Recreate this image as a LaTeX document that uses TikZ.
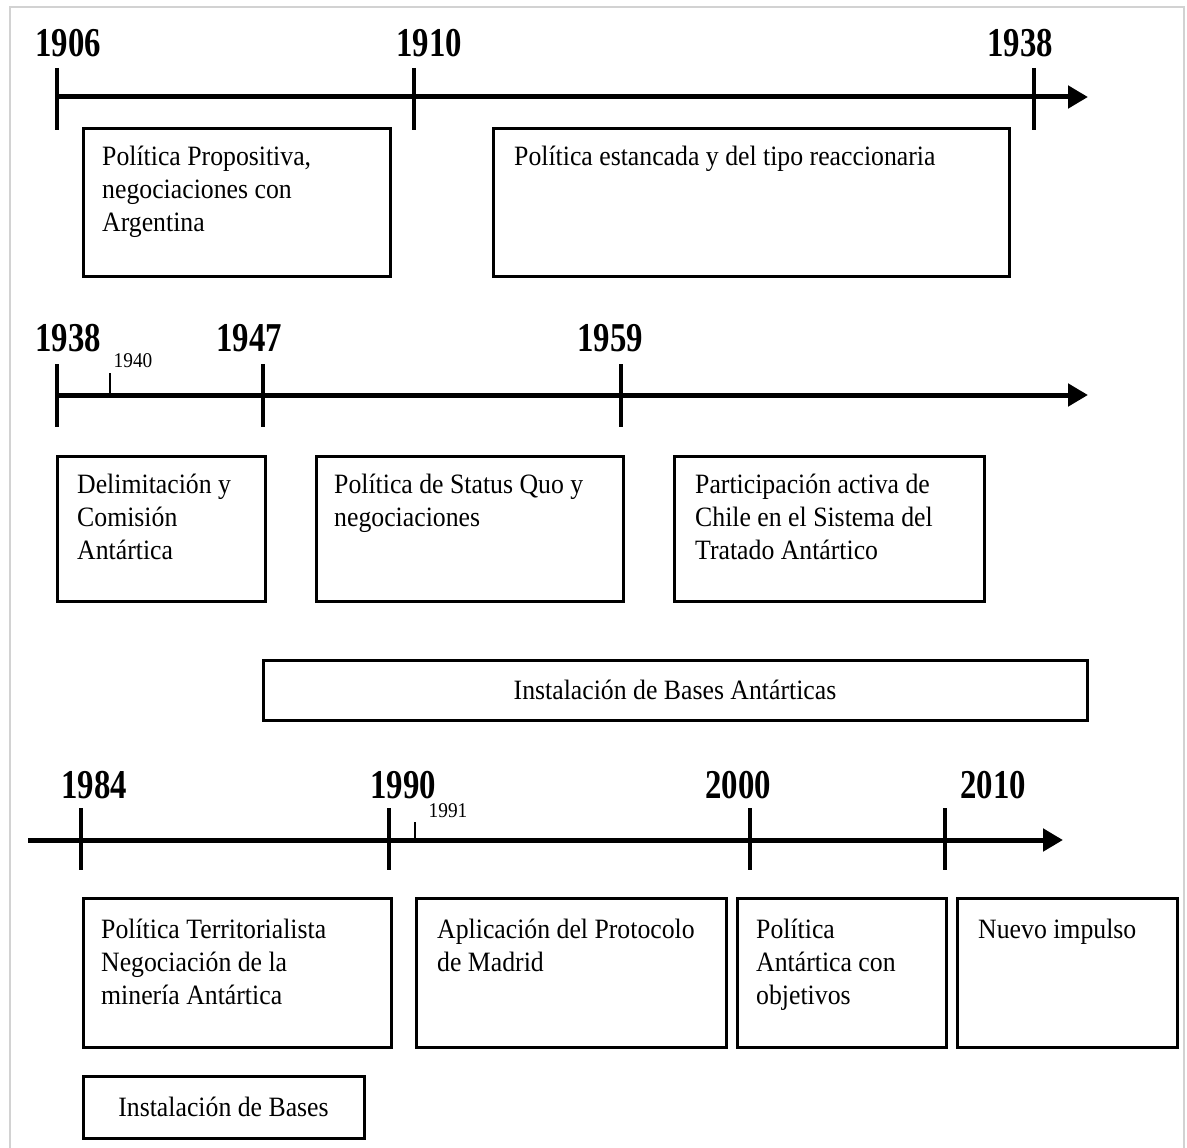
\documentclass[tikz,border=0pt]{standalone}
\usepackage{fontspec}
\setmainfont{Liberation Serif}
\newfontfamily\boxfont[FakeStretch=0.92]{Liberation Serif}
\newfontfamily\yearfont[FakeStretch=0.8]{Liberation Serif}
\usetikzlibrary{arrows.meta}

\begin{document}
\begin{tikzpicture}[x=1pt, y=-1pt,
  axis/.style={line width=5pt, -{Triangle[length=20pt,width=22pt]}},
  yeartick/.style={line width=4pt},
  smalltick/.style={line width=1.8pt},
  year/.style={font=\yearfont\bfseries\fontsize{41}{43}\selectfont, inner sep=0pt},
  smallyear/.style={font=\boxfont\fontsize{21}{23}\selectfont, inner sep=0pt},
  box/.style={draw, line width=3pt, inner sep=0pt, outer sep=0pt, anchor=north west},
  boxtext/.style={font=\boxfont\fontsize{28}{33}\selectfont, align=left, inner sep=0pt, anchor=north west}]
  \useasboundingbox (0,0) rectangle (1187,1148);
  \draw[gray!35, line width=1.5pt] (10,1148) -- (10,7) -- (1184,7) -- (1184,1148);

  \coordinate (a1s) at (57,97);
  \coordinate (a1e) at (1088,97);
  \draw[axis] (a1s) -- (a1e);
  \foreach \x in {57,414,1034} \draw[yeartick] (\x,68) -- (\x,130);
  \node[year] (y1906) at (68,43) {1906};
  \node[year] (y1910) at (429,43) {1910};
  \node[year] (y1938a) at (1020,43) {1938};

  \node[box, minimum width=307pt, minimum height=148pt] (pa) at (83,128) {};
  \node[boxtext] (pat) at ([shift={(19,18)}]pa.north west) {Política Propositiva,\\negociaciones con\\Argentina};
  \node[box, minimum width=516pt, minimum height=148pt] (pb) at (493,128) {};
  \node[boxtext] (pbt) at ([shift={(21,18)}]pb.north west) {Política estancada y del tipo reaccionaria};

  \coordinate (a2s) at (57,395);
  \coordinate (a2e) at (1088,395);
  \draw[axis] (a2s) -- (a2e);
  \foreach \x in {57,263,621} \draw[yeartick] (\x,364) -- (\x,427);
  \draw[smalltick] (110,373) -- (110,395);
  \node[year] (y1938b) at (68,338) {1938};
  \node[year] (y1947) at (249,338) {1947};
  \node[year] (y1959) at (610,338) {1959};
  \node[smallyear] (y1940) at (133,361) {1940};

  \node[box, minimum width=208pt, minimum height=145pt] (pc) at (57,456) {};
  \node[boxtext] (pct) at ([shift={(20,18)}]pc.north west) {Delimitación y\\Comisión\\Antártica};
  \node[box, minimum width=307pt, minimum height=145pt] (pd) at (316,456) {};
  \node[boxtext] (pdt) at ([shift={(18,18)}]pd.north west) {Política de Status Quo y\\negociaciones};
  \node[box, minimum width=310pt, minimum height=145pt] (pe) at (674,456) {};
  \node[boxtext] (pet) at ([shift={(21,18)}]pe.north west) {Participación activa de\\Chile en el Sistema del\\Tratado Antártico};
  \node[box, minimum width=824pt, minimum height=60pt, font=\boxfont\fontsize{28}{33}\selectfont] (pf) at (263,660) {Instalación de Bases Antárticas};

  \coordinate (a3s) at (28,840);
  \coordinate (a3e) at (1063,840);
  \draw[axis] (a3s) -- (a3e);
  \foreach \x in {81,389,750,945} \draw[yeartick] (\x,808) -- (\x,870);
  \draw[smalltick] (415,822) -- (415,840);
  \node[year] (y1984) at (94,785) {1984};
  \node[year] (y1990) at (403,785) {1990};
  \node[year] (y2000) at (738,785) {2000};
  \node[year] (y2010) at (993,785) {2010};
  \node[smallyear] (y1991) at (448,811) {1991};

  \node[box, minimum width=308pt, minimum height=149pt] (pg) at (83,898) {};
  \node[boxtext] (pgt) at ([shift={(18,21)}]pg.north west) {Política Territorialista\\Negociación de la\\minería Antártica};
  \node[box, minimum width=310pt, minimum height=149pt] (ph) at (416,898) {};
  \node[boxtext] (pht) at ([shift={(21,21)}]ph.north west) {Aplicación del Protocolo\\de Madrid};
  \node[box, minimum width=209pt, minimum height=149pt] (pi) at (737,898) {};
  \node[boxtext] (pit) at ([shift={(19,21)}]pi.north west) {Política\\Antártica con\\objetivos};
  \node[box, minimum width=220pt, minimum height=149pt] (pj) at (957,898) {};
  \node[boxtext] (pjt) at ([shift={(21,21)}]pj.north west) {Nuevo impulso};
  \node[box, minimum width=281pt, minimum height=62pt, font=\boxfont\fontsize{28}{33}\selectfont] (pk) at (83,1076) {Instalación de Bases};
\end{tikzpicture}
\end{document}
